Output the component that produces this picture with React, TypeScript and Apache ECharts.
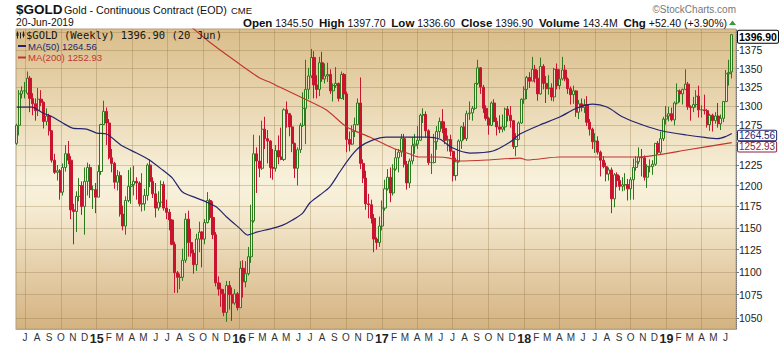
import React, { useEffect, useRef } from "react";
import * as echarts from "echarts";

// Weekly bars, each plotted at the Monday of its week. Tuples are [open, high, low, close].
const firstWeekMonday = "2014-06-09";
const ohlc2014 = [
  [1252, 1277, 1250, 1275], [1275, 1321, 1262, 1316], [1316, 1326, 1310, 1320], [1320, 1332, 1310, 1320],
  [1317, 1346, 1315, 1337], [1337, 1340, 1292, 1310], [1310, 1317, 1288, 1303], [1303, 1310, 1281, 1294],
  [1294, 1324, 1287, 1309], [1309, 1321, 1300, 1305], [1305, 1306, 1271, 1280], [1280, 1297, 1275, 1287],
  [1287, 1290, 1262, 1268], [1268, 1269, 1228, 1231], [1231, 1239, 1214, 1216], [1216, 1225, 1206, 1218],
  [1218, 1220, 1183, 1192], [1192, 1227, 1188, 1222], [1222, 1250, 1217, 1239], [1239, 1255, 1226, 1231],
  [1231, 1236, 1160, 1171], [1171, 1178, 1131, 1169], [1169, 1193, 1145, 1187], [1187, 1209, 1181, 1200],
  [1200, 1205, 1165, 1175], [1175, 1222, 1142, 1205], [1205, 1228, 1188, 1222], [1222, 1226, 1185, 1195],
  [1195, 1200, 1172, 1195],
];
const ohlc2015 = [
  [1195, 1203, 1167, 1186], [1186, 1225, 1186, 1217], [1217, 1277, 1213, 1276], [1276, 1307, 1276, 1293],
  [1293, 1298, 1250, 1278], [1278, 1283, 1232, 1234], [1234, 1245, 1216, 1227], [1227, 1229, 1196, 1204],
  [1204, 1219, 1194, 1212], [1212, 1217, 1163, 1166], [1166, 1176, 1147, 1152], [1152, 1187, 1142, 1182],
  [1182, 1219, 1180, 1199], [1199, 1222, 1178, 1201], [1201, 1224, 1188, 1205], [1205, 1210, 1183, 1203],
  [1203, 1205, 1175, 1178], [1178, 1215, 1169, 1178], [1178, 1196, 1170, 1188], [1188, 1227, 1182, 1225],
  [1225, 1232, 1198, 1205], [1205, 1210, 1185, 1190], [1190, 1203, 1162, 1173], [1173, 1193, 1170, 1180],
  [1180, 1206, 1174, 1201], [1201, 1205, 1170, 1173], [1173, 1183, 1160, 1168], [1168, 1172, 1147, 1159],
  [1159, 1160, 1130, 1131], [1131, 1134, 1077, 1099], [1099, 1101, 1077, 1094], [1094, 1098, 1081, 1094],
  [1094, 1126, 1090, 1113], [1113, 1167, 1110, 1160], [1160, 1170, 1117, 1133], [1133, 1149, 1117, 1121],
  [1121, 1125, 1098, 1108], [1108, 1143, 1101, 1137], [1137, 1157, 1122, 1145], [1145, 1146, 1105, 1137],
  [1137, 1160, 1131, 1156], [1156, 1192, 1155, 1182], [1182, 1184, 1159, 1162], [1162, 1181, 1137, 1142],
  [1142, 1145, 1084, 1088], [1088, 1095, 1074, 1081], [1081, 1088, 1062, 1076], [1076, 1081, 1052, 1056],
  [1056, 1090, 1046, 1085], [1085, 1090, 1059, 1075], [1075, 1083, 1047, 1066], [1066, 1081, 1064, 1076],
];
const ohlc2016 = [
  [1076, 1078, 1058, 1061], [1061, 1112, 1061, 1104], [1104, 1113, 1072, 1089], [1089, 1112, 1083, 1098],
  [1098, 1128, 1096, 1117], [1117, 1177, 1110, 1158], [1158, 1263, 1156, 1239], [1239, 1247, 1191, 1230],
  [1230, 1262, 1210, 1221], [1221, 1281, 1219, 1270], [1270, 1286, 1245, 1258], [1258, 1269, 1227, 1255],
  [1255, 1256, 1209, 1222], [1222, 1245, 1207, 1221], [1221, 1250, 1217, 1243], [1243, 1262, 1226, 1235],
  [1235, 1272, 1231, 1232], [1232, 1297, 1230, 1295], [1295, 1306, 1272, 1290], [1290, 1291, 1261, 1273],
  [1273, 1288, 1241, 1252], [1252, 1253, 1209, 1221], [1221, 1247, 1200, 1244], [1244, 1278, 1240, 1275],
  [1275, 1318, 1273, 1297], [1297, 1362, 1251, 1322], [1322, 1351, 1309, 1340], [1340, 1377, 1337, 1365],
  [1365, 1374, 1310, 1328], [1328, 1341, 1310, 1322], [1322, 1366, 1313, 1358], [1358, 1373, 1332, 1336],
  [1336, 1357, 1330, 1340], [1340, 1358, 1332, 1342], [1342, 1349, 1316, 1320], [1320, 1330, 1306, 1327],
  [1327, 1352, 1324, 1330], [1330, 1331, 1306, 1310], [1310, 1346, 1309, 1342], [1342, 1344, 1308, 1316],
  [1316, 1319, 1241, 1257], [1257, 1267, 1242, 1251], [1251, 1275, 1250, 1267], [1267, 1285, 1260, 1276],
  [1276, 1310, 1275, 1304], [1304, 1338, 1220, 1227], [1227, 1232, 1203, 1209], [1209, 1218, 1171, 1178],
  [1178, 1190, 1161, 1177], [1177, 1183, 1155, 1161], [1161, 1166, 1122, 1137], [1137, 1139, 1125, 1133],
  [1133, 1163, 1128, 1152],
];
const ohlc2017 = [
  [1152, 1182, 1147, 1173], [1173, 1207, 1170, 1196], [1196, 1220, 1194, 1210], [1210, 1222, 1180, 1191],
  [1191, 1226, 1188, 1220], [1220, 1245, 1218, 1234], [1234, 1245, 1216, 1241], [1241, 1264, 1235, 1258],
  [1258, 1264, 1222, 1226], [1226, 1230, 1195, 1203], [1203, 1233, 1197, 1230], [1230, 1260, 1226, 1249],
  [1249, 1264, 1239, 1251], [1251, 1274, 1245, 1256], [1256, 1290, 1255, 1288], [1288, 1297, 1278, 1289],
  [1289, 1293, 1260, 1268], [1268, 1270, 1225, 1228], [1228, 1239, 1214, 1228], [1228, 1264, 1227, 1254],
  [1254, 1274, 1244, 1267], [1267, 1285, 1259, 1280], [1280, 1296, 1265, 1271], [1271, 1280, 1251, 1256],
  [1256, 1262, 1242, 1257], [1257, 1263, 1236, 1242], [1242, 1243, 1205, 1212], [1212, 1234, 1206, 1229],
  [1229, 1257, 1228, 1255], [1255, 1274, 1245, 1273], [1273, 1279, 1256, 1258], [1258, 1294, 1255, 1290],
  [1290, 1306, 1282, 1291], [1291, 1300, 1281, 1297], [1297, 1330, 1295, 1330], [1330, 1362, 1328, 1351],
  [1351, 1352, 1316, 1325], [1325, 1328, 1291, 1297], [1297, 1301, 1281, 1284], [1284, 1286, 1263, 1275],
  [1275, 1306, 1274, 1304], [1304, 1309, 1279, 1280], [1280, 1285, 1262, 1273], [1273, 1288, 1265, 1270],
  [1270, 1289, 1266, 1273], [1273, 1298, 1268, 1296], [1296, 1300, 1280, 1288], [1288, 1300, 1272, 1281],
  [1281, 1282, 1245, 1248], [1248, 1265, 1236, 1257], [1257, 1280, 1256, 1278], [1278, 1310, 1277, 1309],
];
const ohlc2018 = [
  [1309, 1326, 1303, 1322], [1322, 1340, 1309, 1338], [1338, 1345, 1324, 1333], [1333, 1366, 1333, 1349],
  [1349, 1355, 1331, 1337], [1337, 1348, 1307, 1316], [1316, 1365, 1315, 1353], [1353, 1356, 1322, 1330],
  [1330, 1340, 1304, 1323], [1323, 1341, 1315, 1324], [1324, 1330, 1307, 1312], [1312, 1351, 1306, 1349],
  [1349, 1357, 1322, 1327], [1327, 1349, 1322, 1336], [1336, 1366, 1334, 1348], [1348, 1355, 1333, 1336],
  [1336, 1338, 1316, 1323], [1323, 1326, 1302, 1315], [1315, 1327, 1303, 1320], [1320, 1321, 1286, 1292],
  [1292, 1308, 1283, 1303], [1303, 1310, 1293, 1298], [1298, 1309, 1291, 1302], [1302, 1313, 1274, 1279],
  [1279, 1283, 1262, 1270], [1270, 1272, 1245, 1254], [1254, 1265, 1240, 1255], [1255, 1261, 1238, 1241],
  [1241, 1243, 1211, 1231], [1231, 1236, 1221, 1223], [1223, 1228, 1205, 1214], [1214, 1222, 1206, 1219],
  [1219, 1222, 1167, 1184], [1184, 1215, 1174, 1213], [1213, 1216, 1198, 1206], [1206, 1212, 1194, 1199],
  [1199, 1210, 1193, 1201], [1201, 1215, 1194, 1201], [1201, 1208, 1182, 1196], [1196, 1210, 1183, 1207],
  [1207, 1233, 1183, 1222], [1222, 1236, 1218, 1229], [1229, 1247, 1226, 1235], [1235, 1245, 1211, 1234],
  [1234, 1237, 1206, 1210], [1210, 1226, 1197, 1223], [1223, 1232, 1216, 1223], [1223, 1231, 1213, 1226],
  [1226, 1252, 1224, 1252], [1252, 1255, 1238, 1241], [1241, 1267, 1239, 1258], [1258, 1286, 1255, 1283],
];
const ohlc2019 = [
  [1283, 1300, 1276, 1287], [1287, 1299, 1280, 1290], [1290, 1298, 1280, 1282], [1282, 1306, 1275, 1304],
  [1304, 1330, 1302, 1320], [1320, 1322, 1305, 1316], [1316, 1323, 1302, 1322], [1322, 1349, 1321, 1329],
  [1329, 1332, 1295, 1299], [1299, 1301, 1281, 1298], [1298, 1312, 1292, 1302], [1302, 1321, 1298, 1313],
  [1313, 1327, 1285, 1295], [1295, 1301, 1285, 1295], [1295, 1315, 1289, 1294], [1294, 1296, 1272, 1276],
  [1276, 1290, 1268, 1288], [1288, 1290, 1267, 1281], [1281, 1292, 1277, 1287], [1287, 1304, 1272, 1277],
  [1277, 1289, 1269, 1284], [1284, 1306, 1279, 1306], [1306, 1348, 1305, 1343], [1343, 1362, 1327, 1344.5],
  [1345.5, 1397.7, 1336.6, 1396.9],
];

// Moving averages: [date, price]
const ma50Points: [string, number][] = [
  ["2014-06-10", 1298.7], ["2014-07-19", 1298.7], ["2014-08-16", 1290.9], ["2014-09-10", 1285.7],
  ["2014-10-06", 1277.9], ["2014-10-31", 1271.5], ["2014-12-06", 1270.2], ["2015-01-01", 1265.1],
  ["2015-01-26", 1263.8], ["2015-03-08", 1248.6], ["2015-04-13", 1239.9], ["2015-05-16", 1231.2],
  ["2015-06-19", 1218.8], ["2015-07-14", 1209.0], ["2015-08-09", 1192.1], ["2015-09-14", 1184.9],
  ["2015-10-10", 1180.1], ["2015-11-04", 1174.2], ["2015-11-30", 1162.5], ["2016-01-02", 1149.6],
  ["2016-01-23", 1141.6], ["2016-02-15", 1145.0], ["2016-03-19", 1148.5], ["2016-04-22", 1153.1],
  ["2016-05-17", 1159.0], ["2016-06-12", 1167.1], ["2016-06-30", 1179.0], ["2016-07-26", 1188.5],
  ["2016-08-20", 1198.1], ["2016-09-15", 1216.4], ["2016-10-10", 1233.6], ["2016-11-05", 1247.4],
  ["2016-12-08", 1256.2], ["2017-01-13", 1260.0], ["2017-02-23", 1260.0], ["2017-04-26", 1260.0],
  ["2017-05-29", 1257.5], ["2017-07-02", 1246.1], ["2017-08-15", 1239.9], ["2017-10-13", 1242.4],
  ["2017-11-26", 1253.7], ["2017-12-21", 1263.8], ["2018-02-10", 1275.4], ["2018-04-02", 1285.7],
  ["2018-05-16", 1297.4], ["2018-06-26", 1302.6], ["2018-08-01", 1298.7], ["2018-09-11", 1285.7],
  ["2018-11-01", 1275.4], ["2018-12-22", 1267.7], ["2019-02-21", 1262.6], ["2019-04-09", 1259.5],
  ["2019-05-12", 1258.0], ["2019-06-01", 1260.5], ["2019-06-17", 1264.56],
];
const ma200Points: [string, number][] = [
  ["2015-08-27", 1410.0], ["2015-10-17", 1386.6], ["2015-12-26", 1358.9], ["2016-02-23", 1337.2],
  ["2016-03-19", 1331.8], ["2016-04-14", 1325.1], ["2016-06-12", 1310.5], ["2016-08-12", 1294.8],
  ["2016-10-03", 1272.8], ["2016-12-01", 1260.0], ["2017-01-29", 1246.1], ["2017-03-14", 1238.6],
  ["2017-04-08", 1234.9], ["2017-05-22", 1234.9], ["2017-06-24", 1233.6], ["2017-07-20", 1230.0],
  ["2017-09-27", 1231.2], ["2017-12-21", 1233.6], ["2018-01-08", 1231.2], ["2018-04-02", 1234.9],
  ["2018-07-14", 1234.9], ["2018-10-24", 1234.9], ["2018-12-06", 1237.4], ["2019-02-21", 1243.6],
  ["2019-06-17", 1252.93],
];

const priceTicks = [1050, 1075, 1100, 1125, 1150, 1175, 1200, 1225, 1250, 1275, 1300, 1325, 1350, 1375, 1400];
const priceLabels = [1050, 1075, 1100, 1125, 1150, 1175, 1200, 1225, 1275, 1300, 1325, 1350, 1375];
const monthLetters = ["J", "F", "M", "A", "M", "J", "J", "A", "S", "O", "N", "D"];
const labelYears = [2014, 2015, 2016, 2017, 2018, 2019];

const symbolName = "$GOLD";
const titleText = "Gold - Continuous Contract (EOD)";
const exchange = "CME";
const dateText = "20-Jun-2019";
const lastBarLabel = "20 Jun";
const volumeText = "143.4M";
const ma50Last = 1264.56;
const ma200Last = 1252.93;

const FONT = "Liberation Sans";
const GREEN = "#2c7a1c";
const RED = "#c8142f";
const NAVY = "#25256f";
const MARED = "#c2362e";

function utc(s: string) {
  const [y, m, d] = s.split("-").map(Number);
  return Date.UTC(y, m - 1, d);
}

export default function App() {
  const ref = useRef<HTMLDivElement>(null);

  useEffect(() => {
    document.body.style.margin = "0";
    if (!ref.current) return;
    const chart = echarts.init(ref.current, null, { renderer: "svg" });

    const bars = [...ohlc2014, ...ohlc2015, ...ohlc2016, ...ohlc2017, ...ohlc2018, ...ohlc2019];
    const t0 = utc(firstWeekMonday);
    const WEEK = 7 * 86400000;
    const candleData = bars.map((b, i) => [
      t0 + i * WEEK,
      Math.log(b[0]),
      Math.log(b[3]),
      Math.log(b[2]),
      Math.log(b[1]),
    ]);
    const last = bars[bars.length - 1];
    const prev = bars[bars.length - 2];
    const lastClose = last[3];
    const chg = lastClose - prev[3];
    const chgPct = (chg / prev[3]) * 100;

    const xMin = utc("2014-06-08");
    const xMax = utc("2019-06-28");
    const monthTicks: number[] = [];
    const quarterTicks: number[] = [];
    labelYears.forEach((y) => {
      for (let m = 0; m < 12; m++) {
        const t = Date.UTC(y, m, 1);
        if (t < xMin || t > xMax) continue;
        monthTicks.push(t);
        if (m % 3 === 0) quarterTicks.push(t);
      }
    });

    const gridColor = "rgba(140,110,60,0.3)";
    const bg = new echarts.graphic.LinearGradient(0, 0, 0, 1, [
      { offset: 0, color: "#dabd8a" },
      { offset: 0.5, color: "#f8f1db" },
      { offset: 0.58, color: "#f7eed6" },
      { offset: 1, color: "#d4b280" },
    ]);

    const markAt = (
      price: number,
      text: string,
      color: string,
      bold: boolean,
      size: number,
      lh: number,
      dy: number
    ) => ({
      silent: true,
      symbol: ["none", "none"],
      lineStyle: { color: "rgba(0,0,0,0)", width: 0 },
      label: {
        show: true,
        position: "end",
        distance: 2,
        offset: [0, dy],
        formatter: text,
        color,
        fontFamily: FONT,
        fontSize: size,
        lineHeight: lh,
        fontWeight: bold ? "bold" : "normal",
        backgroundColor: "#ffffff",
        borderColor: color,
        borderWidth: 1,
        padding: [0, 1, 0, 1],
        borderRadius: 1,
      },
      emphasis: { disabled: true },
      data: [{ yAxis: Math.log(price) }],
    });

    const headerRich =
      `{b|Open} {n|${last[0].toFixed(2)}}  {b|High} {n|${last[1].toFixed(2)}}  ` +
      `{b|Low} {n|${last[2].toFixed(2)}}  {b|Close} {n|${lastClose.toFixed(2)}}  ` +
      `{b|Volume} {n|${volumeText}}  {b|Chg} {n|+${chg.toFixed(2)} (+${chgPct.toFixed(2)}%)}`;

    const option: any = {
      animation: false,
      backgroundColor: "#ffffff",
      textStyle: { fontFamily: FONT },
      grid: {
        left: 16,
        right: 44,
        top: 29,
        bottom: 16,
        show: true,
        backgroundColor: bg,
        borderColor: "#b3a17e",
        borderWidth: 1,
        containLabel: false,
        outerBoundsMode: "none",
      },
      xAxis: {
        type: "value",
        min: xMin,
        max: xMax,
        axisLine: { show: true, lineStyle: { color: "#b7a887", width: 1 } },
        axisTick: { show: false, customValues: quarterTicks },
        splitLine: { show: true, lineStyle: { color: gridColor, width: 1 } },
        axisLabel: {
          customValues: monthTicks,
          margin: 3,
          color: "#333",
          fontSize: 10,
          fontFamily: FONT,
          showMinLabel: true,
          showMaxLabel: true,
          formatter: (v: number) => {
            const d = new Date(v);
            const m = d.getUTCMonth();
            if (m === 0) return `{yr|${String(d.getUTCFullYear()).slice(2)}}`;
            return monthLetters[m];
          },
          rich: { yr: { fontWeight: "bold", fontSize: 12.5, color: "#222", fontFamily: FONT } },
        },
      },
      yAxis: {
        type: "value",
        position: "right",
        min: Math.log(1038.5),
        max: Math.log(1404.9),
        axisLine: { show: true, lineStyle: { color: "#777", type: "dotted", width: 1 } },
        axisTick: { show: true, inside: false, length: 3, customValues: priceTicks.map(Math.log), lineStyle: { color: "#777" } },
        splitLine: { show: true, lineStyle: { color: gridColor, width: 1 } },
        axisLabel: {
          customValues: priceLabels.map(Math.log),
          formatter: (v: number) => String(Math.round(Math.exp(v))),
          margin: 3,
          color: "#222",
          fontSize: 10.5,
          fontFamily: FONT,
        },
      },
      series: [
        {
          type: "candlestick",
          data: candleData,
          barWidth: 2.6,
          z: 2,
          itemStyle: {
            color: "rgba(255,255,255,0.4)",
            color0: RED,
            borderColor: GREEN,
            borderColor0: RED,
            borderWidth: 1,
          },
          markLine: markAt(lastClose, lastClose.toFixed(2), "#000000", true, 10.5, 12, 0),
        },
        {
          type: "line",
          data: ma200Points.map(([d, v]) => [utc(d), Math.log(v)]),
          symbol: "none",
          smooth: 0.25,
          lineStyle: { color: MARED, width: 1.1 },
          z: 3,
          markLine: markAt(ma200Last, ma200Last.toFixed(2), "#8a1f3a", false, 10, 9.5, 1),
        },
        {
          type: "line",
          data: ma50Points.map(([d, v]) => [utc(d), Math.log(v)]),
          symbol: "none",
          smooth: 0.25,
          lineStyle: { color: NAVY, width: 1.2 },
          z: 4,
          markLine: markAt(ma50Last, ma50Last.toFixed(2), NAVY, false, 10, 9.5, -0.5),
        },
      ],
      graphic: [
        { type: "text", x: 16, y: 9, z: 100, style: { text: symbolName, fontFamily: FONT, fontSize: 13.5, fontWeight: "bold", fill: "#111", verticalAlign: "middle" } },
        { type: "text", x: 64, y: 9.5, z: 100, style: { text: titleText, fontFamily: FONT, fontSize: 10.7, fill: "#111", verticalAlign: "middle" } },
        { type: "text", x: 231, y: 10, z: 100, style: { text: exchange, fontFamily: FONT, fontSize: 9.5, fill: "#111", verticalAlign: "middle" } },
        { type: "text", x: 736, y: 9.5, z: 100, style: { text: "©StockCharts.com", fontFamily: FONT, fontSize: 10, fill: "#777", align: "right", verticalAlign: "middle" } },
        { type: "text", x: 16, y: 22.5, z: 100, style: { text: dateText, fontFamily: FONT, fontSize: 10.3, fill: "#111", verticalAlign: "middle" } },
        {
          type: "text",
          x: 727,
          y: 22.5,
          z: 100,
          style: {
            text: headerRich,
            fontFamily: FONT,
            fontSize: 10.5,
            fill: "#111",
            align: "right",
            verticalAlign: "middle",
            rich: {
              b: { fontFamily: FONT, fontSize: 11.5, fontWeight: "bold", fill: "#111" },
              n: { fontFamily: FONT, fontSize: 10.5, fill: "#111" },
            },
          },
        },
        { type: "polygon", z: 100, shape: { points: [[729, 25], [736, 25], [732.5, 20.5]] }, style: { fill: "#3a9a3a" } },
        { type: "line", z: 100, shape: { x1: 17.5, y1: 31.5, x2: 17.5, y2: 38.5 }, style: { stroke: "#222", lineWidth: 1 } },
        { type: "rect", z: 100, shape: { x: 16.5, y: 33, width: 2, height: 3 }, style: { fill: "#222" } },
        { type: "line", z: 100, shape: { x1: 20.5, y1: 32.5, x2: 20.5, y2: 38.5 }, style: { stroke: "#222", lineWidth: 1 } },
        { type: "line", z: 100, shape: { x1: 23.5, y1: 31.5, x2: 23.5, y2: 37.5 }, style: { stroke: "#222", lineWidth: 1 } },
        { type: "rect", z: 100, shape: { x: 22.5, y: 33.5, width: 2, height: 2.5 }, style: { fill: "#222" } },
        {
          type: "text",
          x: 26,
          y: 35.3,
          z: 100,
          style: {
            text: `${symbolName} (Weekly) ${lastClose.toFixed(2)} (${lastBarLabel})`,
            fontFamily: "DejaVu Sans Mono",
            fontSize: 10.5,
            fill: "#151515",
            verticalAlign: "middle",
          },
        },
        { type: "line", z: 100, shape: { x1: 18, y1: 46, x2: 26, y2: 46 }, style: { stroke: NAVY, lineWidth: 2 } },
        { type: "text", x: 28, y: 46, z: 100, style: { text: `MA(50) ${ma50Last.toFixed(2)}`, fontFamily: FONT, fontSize: 9.6, fill: NAVY, verticalAlign: "middle" } },
        { type: "line", z: 100, shape: { x1: 18, y1: 57.5, x2: 26, y2: 57.5 }, style: { stroke: MARED, lineWidth: 2 } },
        { type: "text", x: 28, y: 57.5, z: 100, style: { text: `MA(200) ${ma200Last.toFixed(2)}`, fontFamily: FONT, fontSize: 9.6, fill: MARED, verticalAlign: "middle" } },
      ],
    };

    chart.setOption(option);
    return () => chart.dispose();
  }, []);

  return <div ref={ref} style={{ width: 780, height: 345 }} />;
}
